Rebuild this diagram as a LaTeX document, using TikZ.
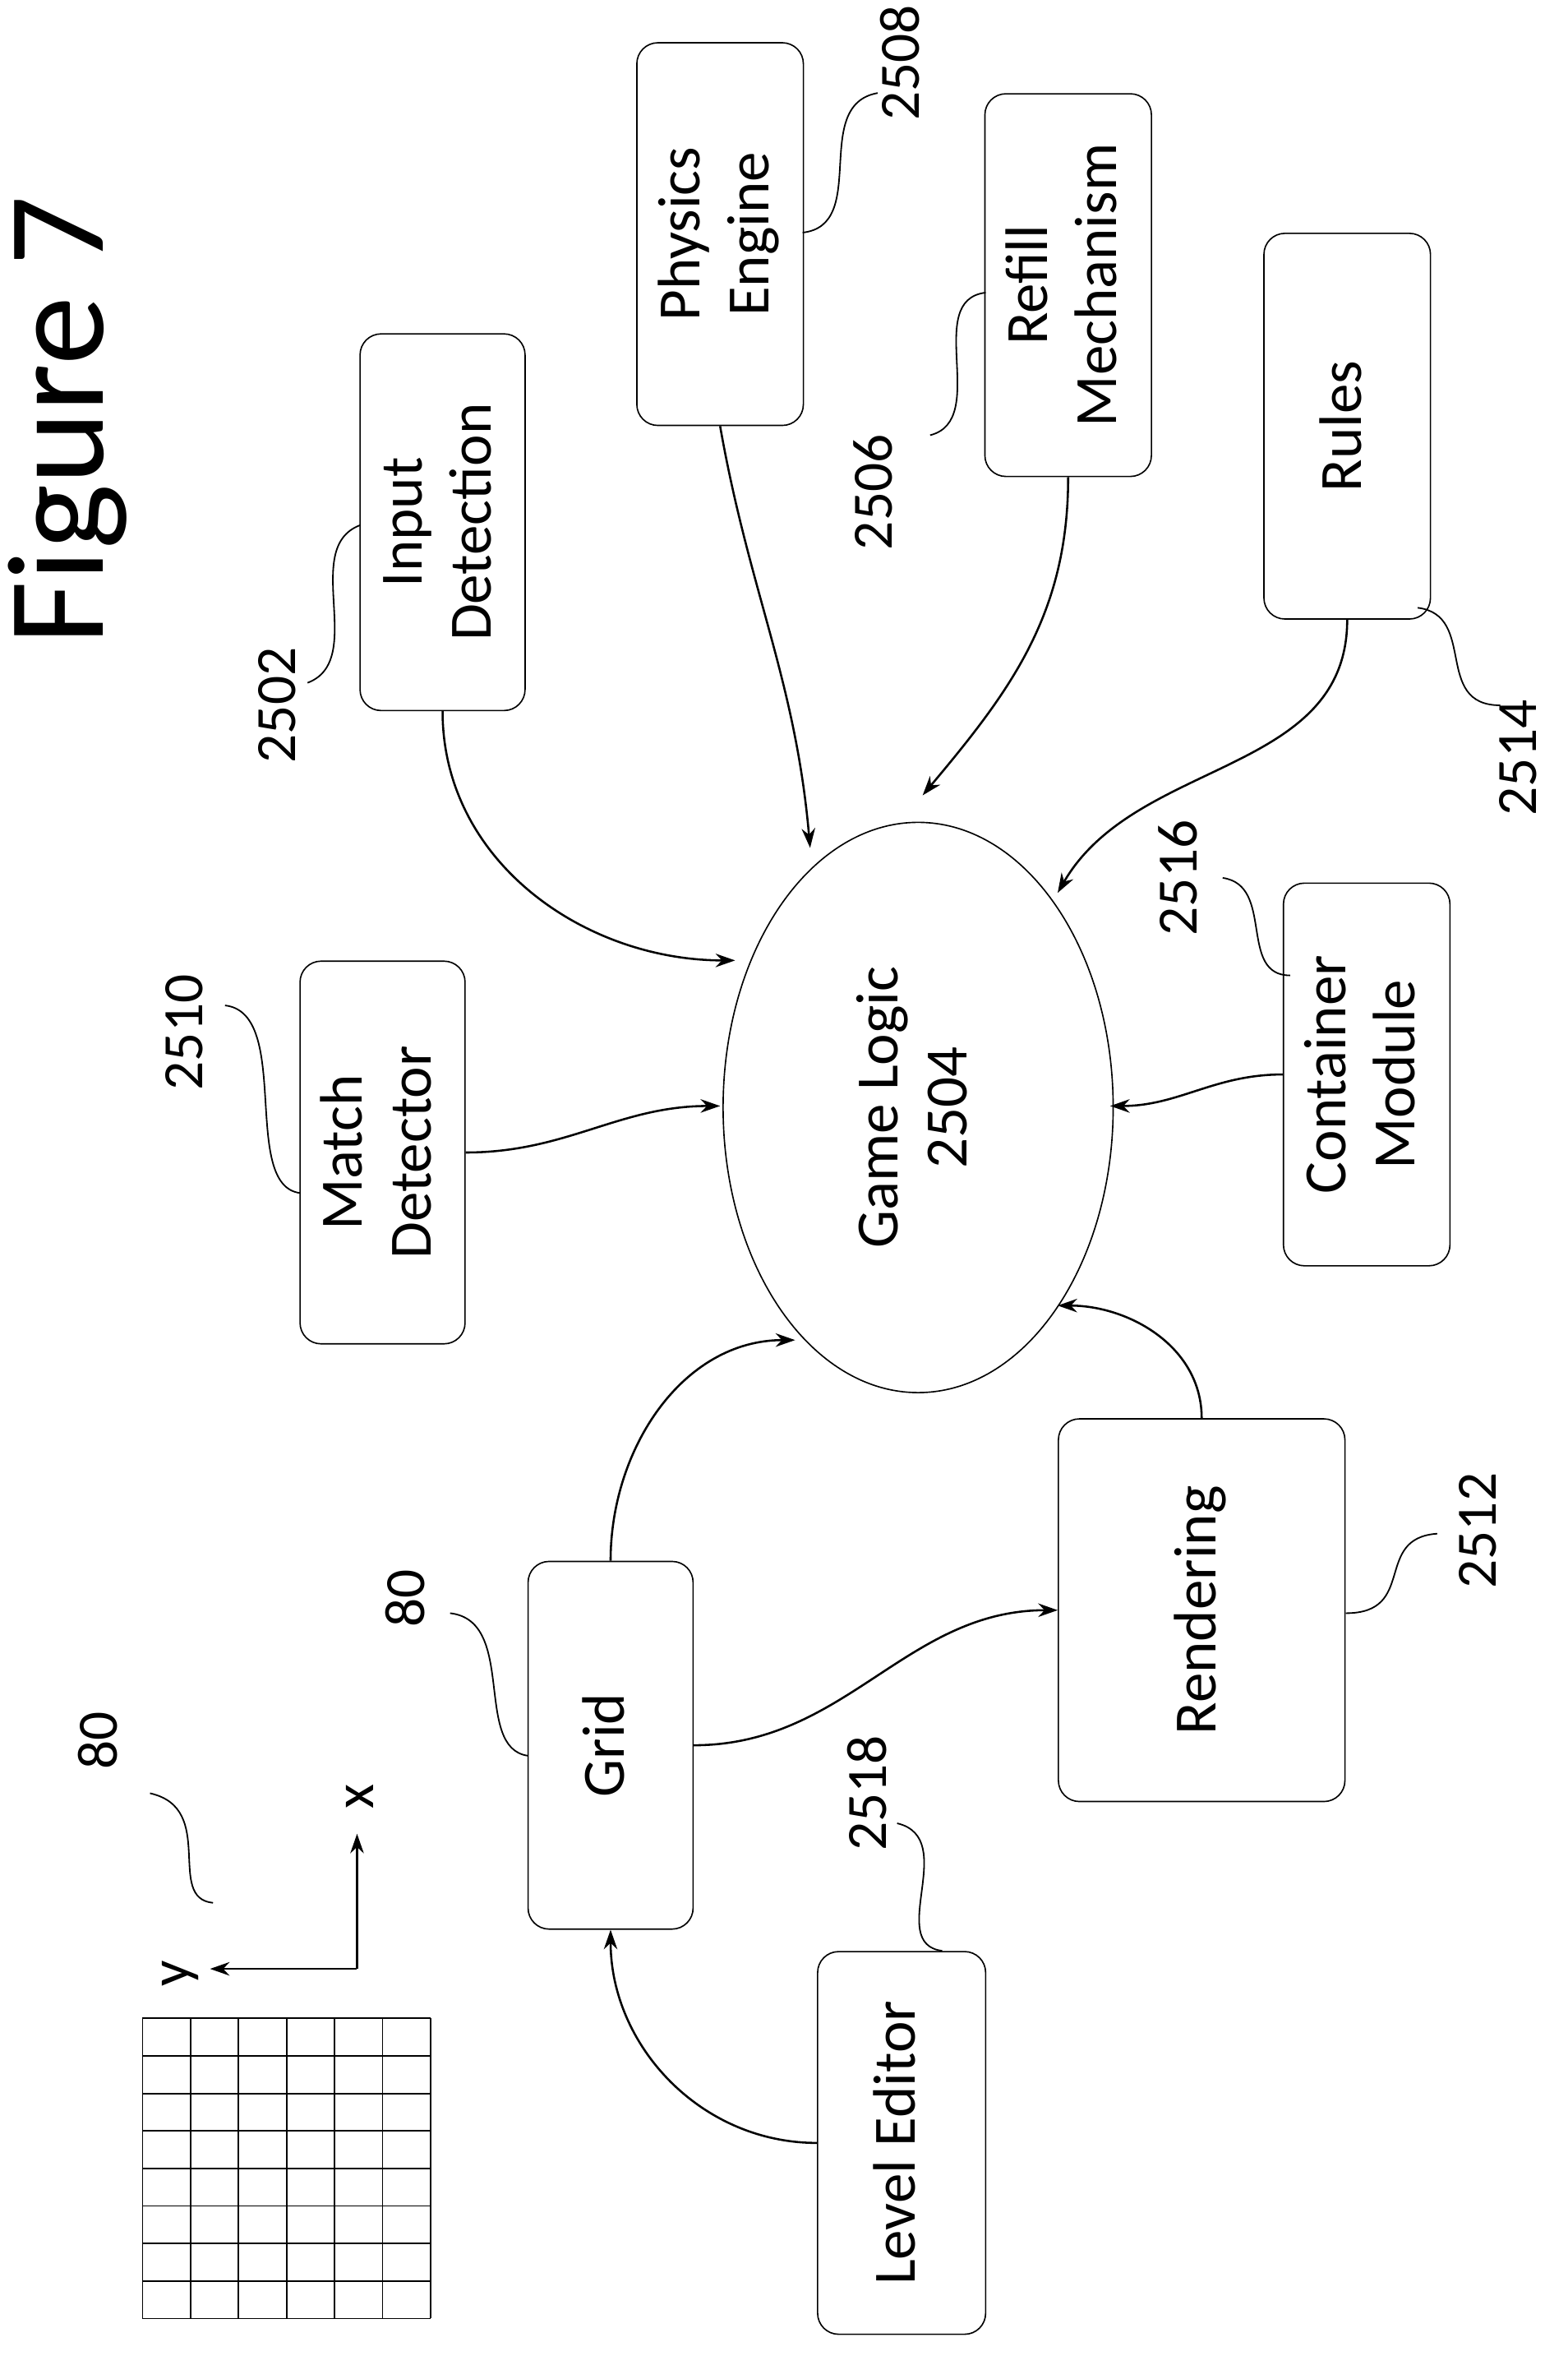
\documentclass[tikz,border=0pt]{standalone}
\usepackage{fontspec}
\setmainfont{Carlito}
\usetikzlibrary{arrows.meta,shapes.geometric}
\tikzset{
  box/.style={draw,rounded corners=14pt,line width=0.9pt,align=center,font=\fontsize{40}{46}\selectfont},
  num/.style={rotate=90,font=\fontsize{38}{44}\selectfont},
  link/.style={->,>={Stealth[length=13pt,width=9pt]},line width=1.4pt},
  lead/.style={line width=1pt}
}
\newcommand{\rt}[1]{\rotatebox{90}{\begin{tabular}{c}#1\end{tabular}}}
\begin{document}
\begin{tikzpicture}[x=1pt,y=-1pt]
\useasboundingbox (0,0) rectangle (1045,1576);

\node[rotate=90,font=\fontsize{92}{100}\selectfont] (fig) at (45,280) {Figure 7};

% grid and axes
\foreach \i in {0,...,6} \draw[line width=1pt] (95+32*\i,1345) -- (95+32*\i,1545);
\foreach \j in {0,...,8} \draw[line width=1pt] (95,1345+25*\j) -- (287,1345+25*\j);
\coordinate (o) at (238,1312);
\coordinate (ax) at (238,1222);
\coordinate (ay) at (140,1312);
\draw[link] (o) -- (ax);
\draw[link] (o) -- (ay);
\node[num] at (240,1197) {x};
\node[num] at (120,1315) {y};

% boxes
\node[box,minimum width=110,minimum height=251] (input) at (295,348) {\rt{Input\\Detection}};
\node[box,minimum width=111,minimum height=255] (phys) at (480,156) {\rt{Physics\\Engine}};
\node[box,minimum width=111,minimum height=255] (refill) at (712,190) {\rt{Refill\\Mechanism}};
\node[box,minimum width=111,minimum height=257] (rules) at (898,284) {\rt{Rules}};
\node[box,minimum width=110,minimum height=255] (match) at (255,768) {\rt{Match\\Detector}};
\node[box,minimum width=111,minimum height=255] (cont) at (911,716) {\rt{Container\\Module}};
\node[box,minimum width=110,minimum height=245] (grid) at (407,1163) {\rt{Grid}};
\node[box,minimum width=191,minimum height=255] (rend) at (801,1073) {\rt{Rendering}};
\node[box,minimum width=112,minimum height=255] (level) at (601,1428) {\rt{Level Editor}};
\node[draw,ellipse,line width=0.9pt,minimum width=260,minimum height=380,align=center,font=\fontsize{40}{46}\selectfont] (logic) at (612,738) {\rt{Game Logic\\2504}};

% connectors
\draw[link] (input.south) to[out=-90,in=180] (490,640);
\draw[link] (phys.south) to[out=-80,in=95] (540,565);
\draw[link] (refill.south) to[out=-90,in=50] (615,530);
\draw[link] (rules.south) to[out=-90,in=60] (705,595);
\draw[link] (match.east) to[out=0,in=180] (480,737);
\draw[link] (cont.west) to[out=180,in=0] (740,737);
\draw[link] (grid.north) to[out=90,in=180] (530,893);
\draw[link] (rend.north) to[out=90,in=0] (705,870);
\draw[link] (grid.east) to[out=0,in=180] (rend.west);
\draw[link] (level.west) to[out=180,in=-90] (grid.south);

% reference numerals
\node[num] at (185,470) {2502};
\draw[lead] (205,455) .. controls (245,440) and (200,365) .. (240,350);
\node[num] at (600,42) {2508};
\draw[lead] (535,155) .. controls (580,150) and (540,70) .. (585,62);
\node[num] at (582,328) {2506};
\draw[lead] (620,290) .. controls (660,280) and (615,200) .. (657,195);
\node[num] at (1012,505) {2514};
\draw[lead] (945,405) .. controls (985,410) and (955,470) .. (1000,470);
\node[num] at (785,585) {2516};
\draw[lead] (815,585) .. controls (850,590) and (825,650) .. (860,650);
\node[num] at (123,688) {2510};
\draw[lead] (150,670) .. controls (195,675) and (160,790) .. (200,795);
\node[num] at (270,1065) {80};
\draw[lead] (300,1075) .. controls (345,1080) and (315,1165) .. (352,1170);
\node[num] at (65,1160) {80};
\draw[lead] (100,1195) .. controls (145,1205) and (110,1265) .. (142,1268);
\node[num] at (985,1020) {2512};
\draw[lead] (897,1075) .. controls (945,1075) and (915,1025) .. (958,1022);
\node[num] at (578,1195) {2518};
\draw[lead] (598,1215) .. controls (640,1225) and (590,1295) .. (628,1300);
\end{tikzpicture}
\end{document}
